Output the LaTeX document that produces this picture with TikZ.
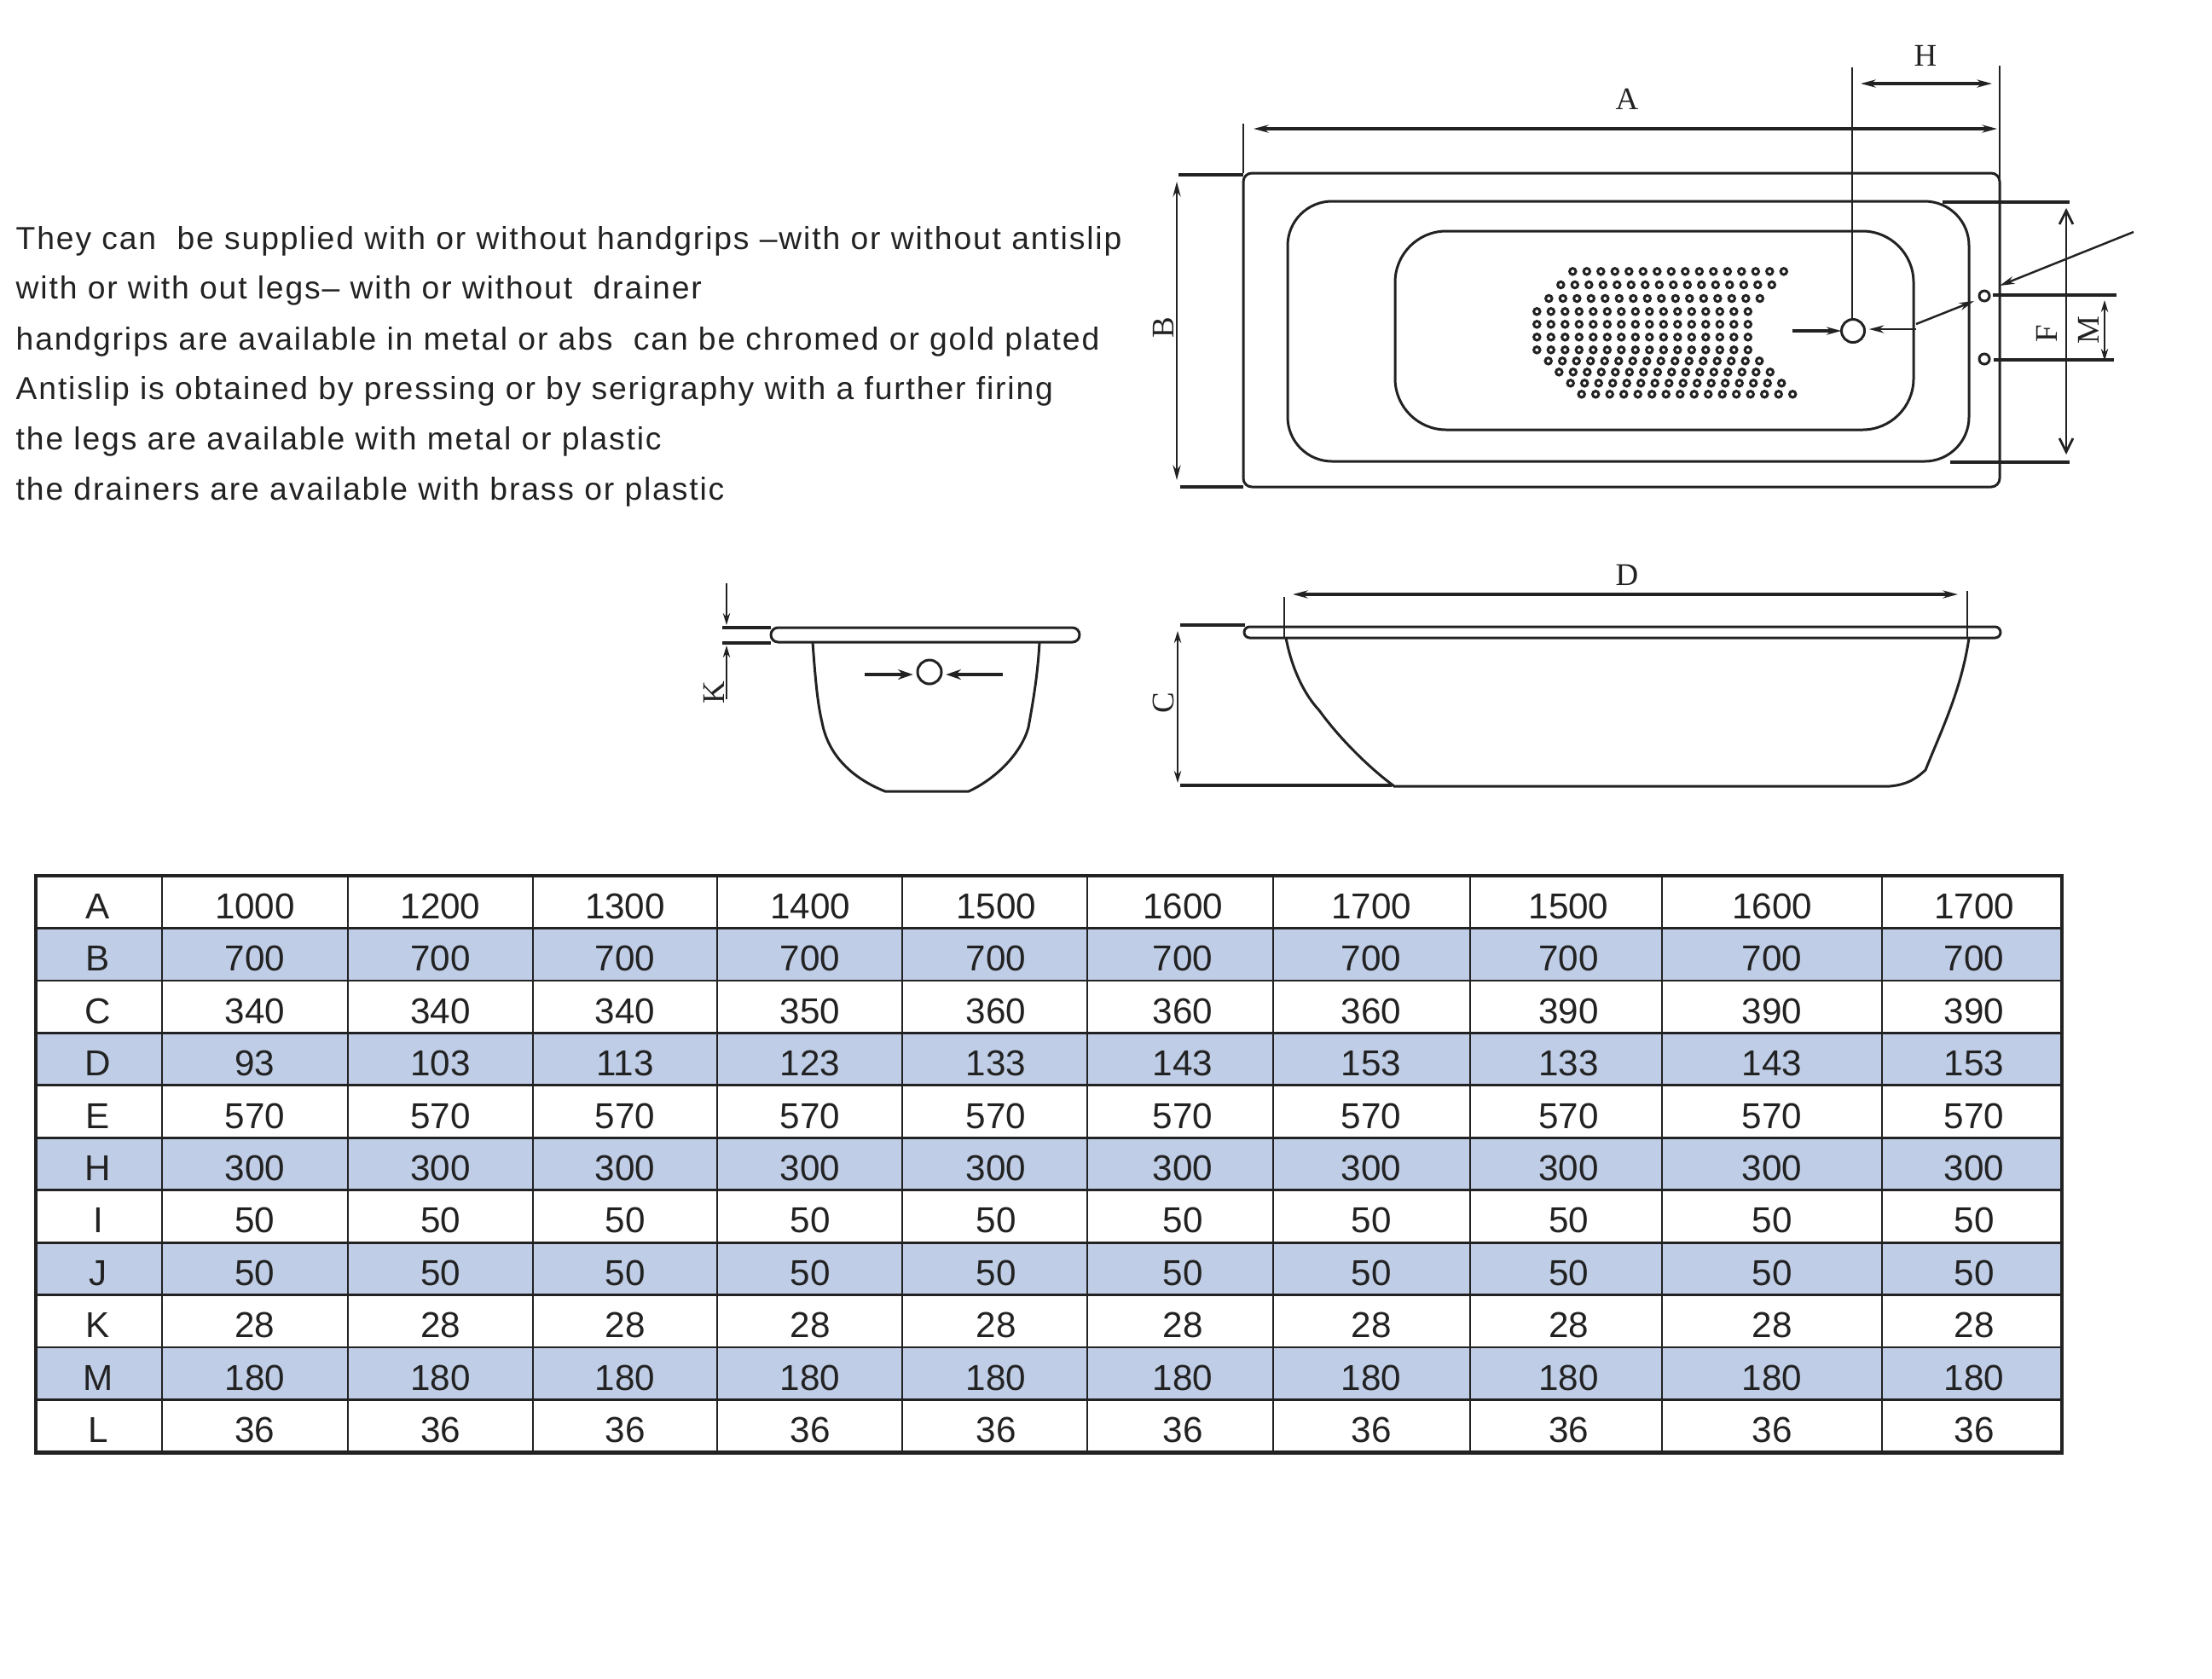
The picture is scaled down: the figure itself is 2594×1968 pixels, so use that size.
\documentclass[tikz,border=0pt]{standalone}
\usepackage{fontspec}
\setmainfont{Liberation Sans}
\newfontface\bodyfont[LetterSpace=5]{Liberation Sans}
\newfontfamily\dimfont{Liberation Serif}
\usetikzlibrary{arrows.meta}
\definecolor{band}{HTML}{BFCDE6}
\definecolor{ink}{HTML}{222222}
\tikzset{
  x=0.01cm,y=-0.01cm,
  thin line/.style={draw=ink,line width=0.55pt},
  main line/.style={draw=ink,line width=0.85pt},
  ext line/.style={draw=ink,line width=0.9pt},
  dim line/.style={draw=ink,line width=0.9pt,{Stealth[length=5pt,width=2.6pt]}-{Stealth[length=5pt,width=2.6pt]}},
  barb dim/.style={draw=ink,line width=0.8pt,{Straight Barb[length=4.5pt,width=4.5pt]}-{Straight Barb[length=4.5pt,width=4.5pt]}},
  small dim/.style={draw=ink,line width=0.55pt,{Stealth[length=4pt,width=2.4pt]}-{Stealth[length=4pt,width=2.4pt]}},
  point arrow/.style={draw=ink,line width=0.7pt,-{Stealth[length=5pt,width=2.6pt]}},
  thick arrow/.style={draw=ink,line width=1.3pt,-{Stealth[length=5pt,width=3.4pt]},shorten >=1.5pt},
  dim label/.style={font=\dimfont\fontsize{10.5}{12}\selectfont,text=ink,inner sep=0pt},
  hole/.style={draw=ink,line width=0.85pt},
  ring/.style={circle,draw=ink,line width=0.85pt,minimum size=#1,inner sep=0pt,outer sep=0pt},
  body text/.style={anchor=base west,inner sep=0pt,text=ink,font=\bodyfont\fontsize{10.6}{12}\selectfont},
  cell/.style={inner sep=0pt,text=ink,font=\fontsize{12}{14}\selectfont},
  table inner/.style={draw=ink,line width=0.8pt},
  table outer/.style={draw=ink,line width=1.4pt},
}
\begin{document}
\begin{tikzpicture}
\useasboundingbox (0,0) rectangle (2594,1968);
% body text
\node[body text] (t1) at (18,292) {They can\ \ be supplied with or without handgrips –with or without antislip};
\node[body text] (t2) at (18,350) {with or with out legs– with or without\ \ drainer};
\node[body text] (t3) at (18,410) {handgrips are available in metal or abs\ \ can be chromed or gold plated};
\node[body text] (t4) at (18,468) {Antislip is obtained by pressing or by serigraphy with a further firing};
\node[body text] (t5) at (18,527) {the legs are available with metal or plastic};
\node[body text] (t6) at (18,586) {the drainers are available with brass or plastic};

% plan view
\draw[main line,rounded corners=0.1cm] (1458,203) rectangle (2345,571);
\draw[main line,rounded corners=0.52cm] (1510,236) rectangle (2309,541);
\draw[main line,rounded corners=0.6cm] (1636,271) rectangle (2244,504);
\foreach \yy/\xx in {318.3/1844.3,334/1830.3,350/1816.3,365.3/1802.3,380.3/1802.3,395.3/1802.3,410.3/1802.3,423.3/1815.7,436.3/1828.3,449.3/1841.7,462.3/1854.7}
  \foreach \i in {0,...,15}
    \draw[hole] ({\xx+\i*16.5},\yy) circle[radius=3.7];
\node[ring=0.27cm] (drain) at (2173,388) {};
\node[ring=0.12cm] (gripA) at (2327,347) {};
\node[ring=0.12cm] (gripB) at (2327,421) {};
% dimension A
\coordinate (aL) at (1458,145); \coordinate (aLb) at (1458,203);
\coordinate (aR) at (2345,77);  \coordinate (aRb) at (2345,240);
\draw[thin line] (aL) -- (aLb);
\draw[thin line] (aR) -- (aRb);
\coordinate (a1) at (1470,151); \coordinate (a2) at (2342,151);
\draw[dim line] (a1) -- (a2);
\node[dim label] (labA) at (1908,116) {A};
% dimension H
\coordinate (hT) at (2172,79);
\draw[thin line] (hT) -- (drain.north -| hT);
\coordinate (h1) at (2182,98); \coordinate (h2) at (2336,98);
\draw[dim line] (h1) -- (h2);
\node[dim label] (labH) at (2258,65) {H};
% dimension B
\coordinate (b1T) at (1382,205); \coordinate (b1E) at (1458,205);
\coordinate (b2T) at (1384,571); \coordinate (b2E) at (1458,571);
\draw[ext line] (b1T) -- (b1E);
\draw[ext line] (b2T) -- (b2E);
\coordinate (b1) at (1380,213); \coordinate (b2) at (1380,563);
\draw[dim line,line width=0.7pt] (b1) -- (b2);
\node[dim label,rotate=90] (labB) at (1364,384) {B};
% drain arrows
\coordinate (dl) at (2102,388);
\draw[point arrow,line width=1pt] (dl) -- (drain.west);
\coordinate (dr) at (2247,386);
\draw[point arrow,shorten >=1.5pt] (dr) -- (drain.east |- dr);
\coordinate (dg1) at (2247,380); \coordinate (dg2) at (2315,353);
\draw[point arrow] (dg1) -- (dg2);
\coordinate (pa) at (2502,272); \coordinate (pb) at (2345,335);
\draw[point arrow] (pa) -- (pb);
% dimensions F, M
\coordinate (f1a) at (2278,237); \coordinate (f1b) at (2427,237);
\coordinate (f2a) at (2287,542); \coordinate (f2b) at (2427,542);
\draw[ext line] (f1a) -- (f1b);
\draw[ext line] (f2a) -- (f2b);
\coordinate (f1) at (2423,244); \coordinate (f2) at (2423,533);
\draw[barb dim] (f1) -- (f2);
\node[dim label,rotate=90] (labF) at (2400,391) {F};
\coordinate (m1a) at (2337,346); \coordinate (m1b) at (2482,346);
\coordinate (m2a) at (2338,422); \coordinate (m2b) at (2479,422);
\draw[ext line] (m1a) -- (m1b);
\draw[ext line] (m2a) -- (m2b);
\coordinate (m1) at (2468,352); \coordinate (m2) at (2468,423);
\draw[small dim] (m1) -- (m2);
\node[dim label,rotate=90] (labM) at (2449,387) {M};

% side view
\draw[main line,rounded corners=0.065cm] (1459,735) rectangle (2346,748);
\draw[main line] (1508,748) .. controls (1515,785) and (1530,815) .. (1547,833)
  .. controls (1570,865) and (1605,900) .. (1635,922) -- (2216,922)
  .. controls (2240,920) and (2250,910) .. (2258,903)
  .. controls (2275,860) and (2300,810) .. (2309,748);
\coordinate (d1T) at (1506,700); \coordinate (d1B) at (1506,748);
\coordinate (d2T) at (2307,693); \coordinate (d2B) at (2307,748);
\draw[thin line] (d1T) -- (d1B);
\draw[thin line] (d2T) -- (d2B);
\coordinate (d1) at (1516,697); \coordinate (d2) at (2296,697);
\draw[dim line] (d1) -- (d2);
\node[dim label] (labD) at (1908,674) {D};
\coordinate (c1a) at (1384,733); \coordinate (c1b) at (1460,733);
\coordinate (c2a) at (1384,921); \coordinate (c2b) at (1632,921);
\draw[ext line] (c1a) -- (c1b);
\draw[ext line] (c2a) -- (c2b);
\coordinate (c1) at (1381,740); \coordinate (c2) at (1381,918);
\draw[small dim] (c1) -- (c2);
\node[dim label,rotate=90] (labC) at (1364,824) {C};

% end view
\draw[main line,rounded corners=0.085cm] (904,736) rectangle (1266,753);
\draw[main line] (953,753) .. controls (957,810) and (960,830) .. (964,847)
  .. controls (972,890) and (1005,915) .. (1038,928) -- (1136,928)
  .. controls (1170,912) and (1198,882) .. (1206,853)
  .. controls (1212,820) and (1217,790) .. (1219,753);
\node[ring=0.28cm] (waste) at (1090,788) {};
\coordinate (w1) at (1014,791); \coordinate (w2) at (1176,791);
\draw[thick arrow] (w1) -- (waste.west |- w1);
\draw[thick arrow] (w2) -- (waste.east |- w2);
\coordinate (k1a) at (847,736); \coordinate (k1b) at (904,736);
\coordinate (k2a) at (847,754); \coordinate (k2b) at (904,754);
\draw[ext line] (k1a) -- (k1b);
\draw[ext line] (k2a) -- (k2b);
\coordinate (k1T) at (852,684); \coordinate (k1) at (852,733);
\coordinate (k2T) at (852,820); \coordinate (k2) at (852,757);
\draw[thin line,-{Stealth[length=4pt,width=2.4pt]}] (k1T) -- (k1);
\draw[thin line,-{Stealth[length=4pt,width=2.4pt]}] (k2T) -- (k2);
\node[dim label,rotate=90] (labK) at (837,812) {K};

% table
\def\rowtop{1027}
\def\rowh{61.45}
\foreach \r in {1,3,5,7,9}
  \fill[band] (42,{\rowtop+\r*\rowh}) rectangle (2418,{\rowtop+(\r+1)*\rowh});
\foreach \r in {1,...,10}
  \draw[table inner] (42,{\rowtop+\r*\rowh}) -- (2418,{\rowtop+\r*\rowh});
\foreach \xx in {190,408,625,841,1058,1275,1493,1724,1949,2207}
  \draw[table inner] (\xx,1027) -- (\xx,1703);
\draw[table outer] (42,1027) rectangle (2418,1703);
\foreach \rr/\lab/\vals in {
  0/A/{1000,1200,1300,1400,1500,1600,1700,1500,1600,1700},
  1/B/{700,700,700,700,700,700,700,700,700,700},
  2/C/{340,340,340,350,360,360,360,390,390,390},
  3/D/{93,103,113,123,133,143,153,133,143,153},
  4/E/{570,570,570,570,570,570,570,570,570,570},
  5/H/{300,300,300,300,300,300,300,300,300,300},
  6/I/{50,50,50,50,50,50,50,50,50,50},
  7/J/{50,50,50,50,50,50,50,50,50,50},
  8/K/{28,28,28,28,28,28,28,28,28,28},
  9/M/{180,180,180,180,180,180,180,180,180,180},
  10/L/{36,36,36,36,36,36,36,36,36,36}}{
  \node[cell] (lab\rr) at (115,{\rowtop+(\rr+0.5)*\rowh+5}) {\lab};
  \foreach \v [count=\c] in \vals {
    \pgfmathsetmacro{\cx}{{299,516.5,733,950,1168,1387,1608,1839.5,2078,2315}[\c-1]}
    \node[cell] (v\rr-\c) at (\cx,{\rowtop+(\rr+0.5)*\rowh+5}) {\v};
  }
}
\end{tikzpicture}
\end{document}
